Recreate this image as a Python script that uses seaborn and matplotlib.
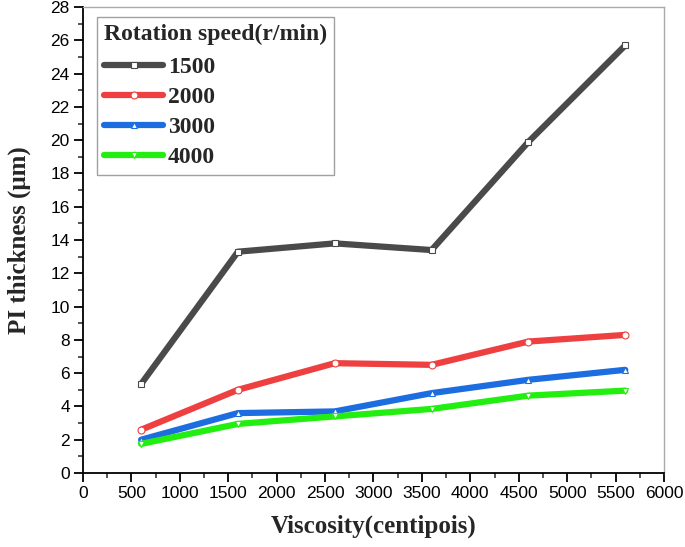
import pandas as pd
import matplotlib.pyplot as plt
import seaborn as sns
from matplotlib.ticker import MultipleLocator

# Data
viscosity = [600, 1600, 2600, 3600, 4600, 5600]
speeds = ["1500", "2000", "3000", "4000"]
thick_1500 = [5.35, 13.3, 13.8, 13.4, 19.9, 25.7]
thick_2000 = [2.6, 5.0, 6.6, 6.5, 7.9, 8.3]
thick_3000 = [2.0, 3.6, 3.7, 4.8, 5.6, 6.2]
thick_4000 = [1.75, 2.95, 3.4, 3.85, 4.65, 4.95]

series = [thick_1500, thick_2000, thick_3000, thick_4000]
colors = ["#4a4a4a", "#ee4040", "#1c6ee0", "#22ee10"]
markers = ["s", "o", "^", "v"]

sns.set_style("ticks")
plt.rcParams["font.family"] = ["Liberation Sans", "DejaVu Sans"]

fig = plt.figure(figsize=(6.85, 5.47), dpi=100, facecolor="white")
ax = fig.add_axes([0.1212, 0.1353, 0.8481, 0.8517])

for speed, vals, c, m in zip(speeds, series, colors, markers):
    df = pd.DataFrame({"x": viscosity, "y": vals})
    sns.lineplot(
        data=df, x="x", y="y", ax=ax, color=c, linewidth=4.5,
        marker=m, markersize=5, markerfacecolor="white",
        markeredgecolor=c, markeredgewidth=0.8, label=speed,
        solid_capstyle="round",
    )

ax.set_xlim(0, 6000)
ax.set_ylim(0, 28)
ax.xaxis.set_major_locator(MultipleLocator(500))
ax.xaxis.set_minor_locator(MultipleLocator(250))
ax.yaxis.set_major_locator(MultipleLocator(2))
ax.yaxis.set_minor_locator(MultipleLocator(1))
ax.tick_params(axis="both", which="major", direction="out", length=6.5,
               width=1.3, labelsize=12.5, colors="black", pad=3)
ax.tick_params(axis="both", which="minor", direction="out", length=3.6, width=1.1)

for side in ["left", "bottom"]:
    ax.spines[side].set_color("black")
    ax.spines[side].set_linewidth(1.3)
for side in ["top", "right"]:
    ax.spines[side].set_visible(True)
    ax.spines[side].set_color("#aaaaaa")
    ax.spines[side].set_linewidth(1.0)

serif = ["Liberation Serif", "DejaVu Serif"]
ax.set_xlabel("Viscosity(centipois)", fontsize=18, fontweight="bold",
              family=serif, labelpad=10)
ax.set_ylabel("PI thickness (μm)", fontsize=18, fontweight="bold",
              family=serif, labelpad=14)

leg = ax.legend(
    title="Rotation speed(r/min)", loc="upper left",
    bbox_to_anchor=(0.024, 0.979), frameon=True, fancybox=False,
    edgecolor="#888888", handlelength=2.5, handletextpad=0.2,
    borderpad=0.3, labelspacing=0.36, borderaxespad=0,
    prop={"family": serif, "weight": "bold", "size": 17},
    title_fontproperties={"family": serif, "weight": "bold", "size": 17},
    alignment="left",
)
leg.get_frame().set_linewidth(1.0)
leg._legend_box.sep = 8

plt.savefig("out.png", dpi=100, facecolor="white")
plt.close()
